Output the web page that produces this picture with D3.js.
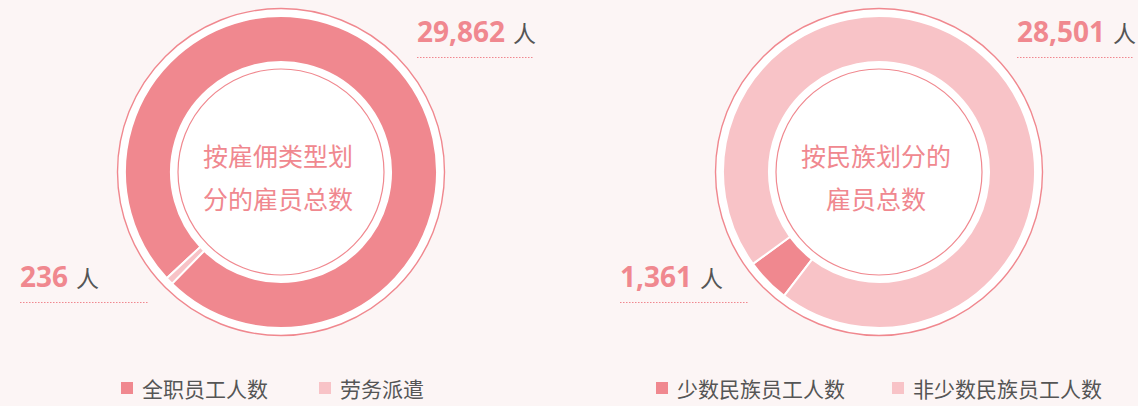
<!DOCTYPE html>
<html>
<head>
<meta charset="utf-8">
<script src="https://cdn.jsdelivr.net/npm/d3@7/dist/d3.min.js"></script>
<style>
  html, body { margin: 0; padding: 0; background: #fcf5f5; }
  svg { display: block; }
</style>
</head>
<body>
<svg id="chart" width="1138" height="406"></svg>
<script>
// Employees by employment type
const typeCategories = ["全职员工人数", "劳务派遣"];
const typeValues = [29862, 236];
const typeTitle = ["按雇佣类型划", "分的雇员总数"];

// Employees by ethnicity
const ethnicCategories = ["少数民族员工人数", "非少数民族员工人数"];
const ethnicValues = [1361, 28501];
const ethnicTitle = ["按民族划分的", "雇员总数"];

const unitLabel = "人";
const colors = ["#f0888f", "#f8c3c7"];

const svg = d3.select("#chart");
const W = 1138, H = 406;
svg.append("rect").attr("width", W).attr("height", H).attr("fill", "#fcf5f5");

const cjk = "'Noto Sans CJK SC', 'Noto Sans', sans-serif";
const numFont = "'Noto Sans', 'Open Sans', sans-serif";
const fmt = d3.format(",");

const charts = [
  {
    categories: typeCategories, values: typeValues, title: typeTitle,
    cx: 281, cy: 172,
    labelPos: [{ x: 417, y: 42, lineEnd: 534 }, { x: 20, y: 287, lineEnd: 148 }],
    legendX: [121, 319]
  },
  {
    categories: ethnicCategories, values: ethnicValues, title: ethnicTitle,
    cx: 879, cy: 172,
    labelPos: [{ x: 1017, y: 42, lineEnd: 1133 }, { x: 620, y: 287, lineEnd: 748 }],
    legendX: [656, 892]
  }
];

const rRing = 163.5, rOuter = 156, rInner = 110, rCore = 103;
const smallCenter = 225.7 * Math.PI / 180;

charts.forEach(c => {
  const g = svg.append("g").attr("transform", `translate(${c.cx},${c.cy})`);
  const items = c.categories.map((name, i) => ({ name, value: c.values[i], color: colors[i] }));
  const total = d3.sum(items, d => d.value);
  const small = d3.min(items, d => d.value);
  const a0 = smallCenter - (small / total) * Math.PI;

  const pie = d3.pie()
    .value(d => d.value)
    .sort((a, b) => a.value - b.value)
    .startAngle(a0)
    .endAngle(a0 + 2 * Math.PI);

  const arc = d3.arc().innerRadius(rInner).outerRadius(rOuter);

  // outer white disc with pink rim
  g.append("circle").attr("r", rRing).attr("fill", "#ffffff")
    .attr("stroke", colors[0]).attr("stroke-width", 1.4);

  g.selectAll("path.slice").data(pie(items)).join("path")
    .attr("class", "slice")
    .attr("d", arc)
    .attr("fill", d => d.data.color)
    .attr("stroke", "#ffffff")
    .attr("stroke-width", 2)
    .attr("stroke-linejoin", "round");

  // inner white disc with pink rim
  g.append("circle").attr("r", rCore).attr("fill", "#ffffff")
    .attr("stroke", colors[0]).attr("stroke-width", 1.2);

  g.selectAll("text.title").data(c.title).join("text")
    .attr("class", "title")
    .attr("x", -3)
    .attr("y", (d, i) => -17 + i * 43)
    .attr("text-anchor", "middle")
    .attr("dominant-baseline", "central")
    .attr("font-family", cjk)
    .attr("font-size", 25)
    .attr("fill", "#f0888f")
    .text(d => d);

  // value labels: larger value top-right, smaller value bottom-left
  const ordered = items.slice().sort((a, b) => b.value - a.value);
  ordered.forEach((d, i) => {
    const p = c.labelPos[i];
    const t = svg.append("text")
      .attr("x", p.x).attr("y", p.y);
    t.append("tspan")
      .attr("font-family", numFont)
      .attr("font-weight", 700)
      .attr("font-size", 28)
      .attr("fill", "#f0888f")
      .text(fmt(d.value));
    t.append("tspan")
      .attr("dx", 8)
      .attr("font-family", cjk)
      .attr("font-size", 23)
      .attr("fill", "#555555")
      .text(unitLabel);
    svg.append("line")
      .attr("x1", p.x).attr("x2", p.lineEnd)
      .attr("y1", p.y + 15.5).attr("y2", p.y + 15.5)
      .attr("stroke", "#f0888f")
      .attr("stroke-width", 1.2)
      .attr("stroke-dasharray", "1.5 1.5");
  });

  // legend
  const lg = svg.append("g");
  items.forEach((d, i) => {
    const x = c.legendX[i];
    lg.append("rect").attr("x", x).attr("y", 382).attr("width", 12).attr("height", 12)
      .attr("fill", d.color);
    lg.append("text")
      .attr("x", x + 21).attr("y", 388)
      .attr("dominant-baseline", "central")
      .attr("font-family", cjk)
      .attr("font-size", 21)
      .attr("fill", "#555555")
      .text(d.name);
  });
});
</script>
</body>
</html>
